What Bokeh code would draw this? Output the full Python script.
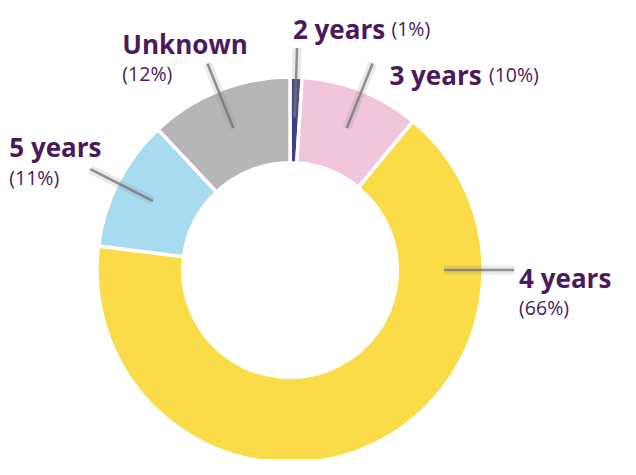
import math
from bokeh.plotting import figure
from bokeh.models import Range1d
from bokeh.core.properties import value
from bokeh.embed import file_html
from bokeh.resources import INLINE

# ---- data ----
categories = ["2 years", "3 years", "4 years", "5 years", "Unknown"]
shares = [1, 10, 66, 11, 12]
pct_labels = ["(1%)", "(10%)", "(66%)", "(11%)", "(12%)"]
colors = ["#3d4088", "#f1c5dc", "#f9dc48", "#a8daf0", "#b6b6b9"]

TEXT = "#4a1a5c"
W, H = 620, 459
VW, VH = 636, 475  # logical canvas (reference pixels)

p = figure(width=W, height=H, x_range=Range1d(0, VW), y_range=Range1d(-VH, 0),
           output_backend="svg", toolbar_location=None, min_border=0)
p.axis.visible = False
p.grid.visible = False
p.outline_line_color = None
p.background_fill_color = "white"

cx, cy = 297, -279
r_in, r_out = 110, 198

total = float(sum(shares))
starts, ends, mids = [], [], []
cum = 0.0
for s in shares:
    t0 = cum / total * 2 * math.pi
    cum += s
    t1 = cum / total * 2 * math.pi
    starts.append(math.pi / 2 - t0)
    ends.append(math.pi / 2 - t1)
    mids.append((t0 + t1) / 2)

p.annular_wedge(x=[cx] * len(shares), y=[cy] * len(shares), inner_radius=r_in, outer_radius=r_out,
                start_angle=starts, end_angle=ends, direction="clock",
                fill_color=colors, line_color="white", line_width=3.5)

# leader lines (radial at slice middle; the largest slice points right)
big = shares.index(max(shares))
xs, ys = [], []
for i, m in enumerate(mids):
    a = math.pi / 2 if i == big else m
    xs.append([cx + 158 * math.sin(a), cx + 230 * math.sin(a)])
    ys.append([cy + 158 * math.cos(a), cy + 230 * math.cos(a)])
p.multi_line(xs=xs, ys=ys, line_color="#888888", line_alpha=0.18, line_width=9)
p.multi_line(xs=xs, ys=ys, line_color="#707070", line_alpha=0.75, line_width=2.5)

# label layout (reference pixel anchors)
layout = {
    "2 years": ((300, -29), (401, -29)),
    "3 years": ((399, -77), (501, -77)),
    "4 years": ((532, -287), (532, -318)),
    "5 years": ((9, -152), (9, -183)),
    "Unknown": ((125, -45), (125, -76)),
}
nx = [layout[c][0][0] for c in categories]
ny = [layout[c][0][1] for c in categories]
px = [layout[c][1][0] for c in categories]
py = [layout[c][1][1] for c in categories]

p.text(x=nx, y=ny, text=categories, text_font=value("Open Sans"), text_font_style="bold",
       text_font_size="26px", text_color=TEXT, text_baseline="alphabetic", text_align="left")
p.text(x=px, y=py, text=pct_labels, text_font=value("Open Sans"), text_font_style="normal",
       text_font_size="19.5px", text_color=TEXT, text_baseline="alphabetic", text_align="left")

open("out.html", "w").write(file_html(p, INLINE))
